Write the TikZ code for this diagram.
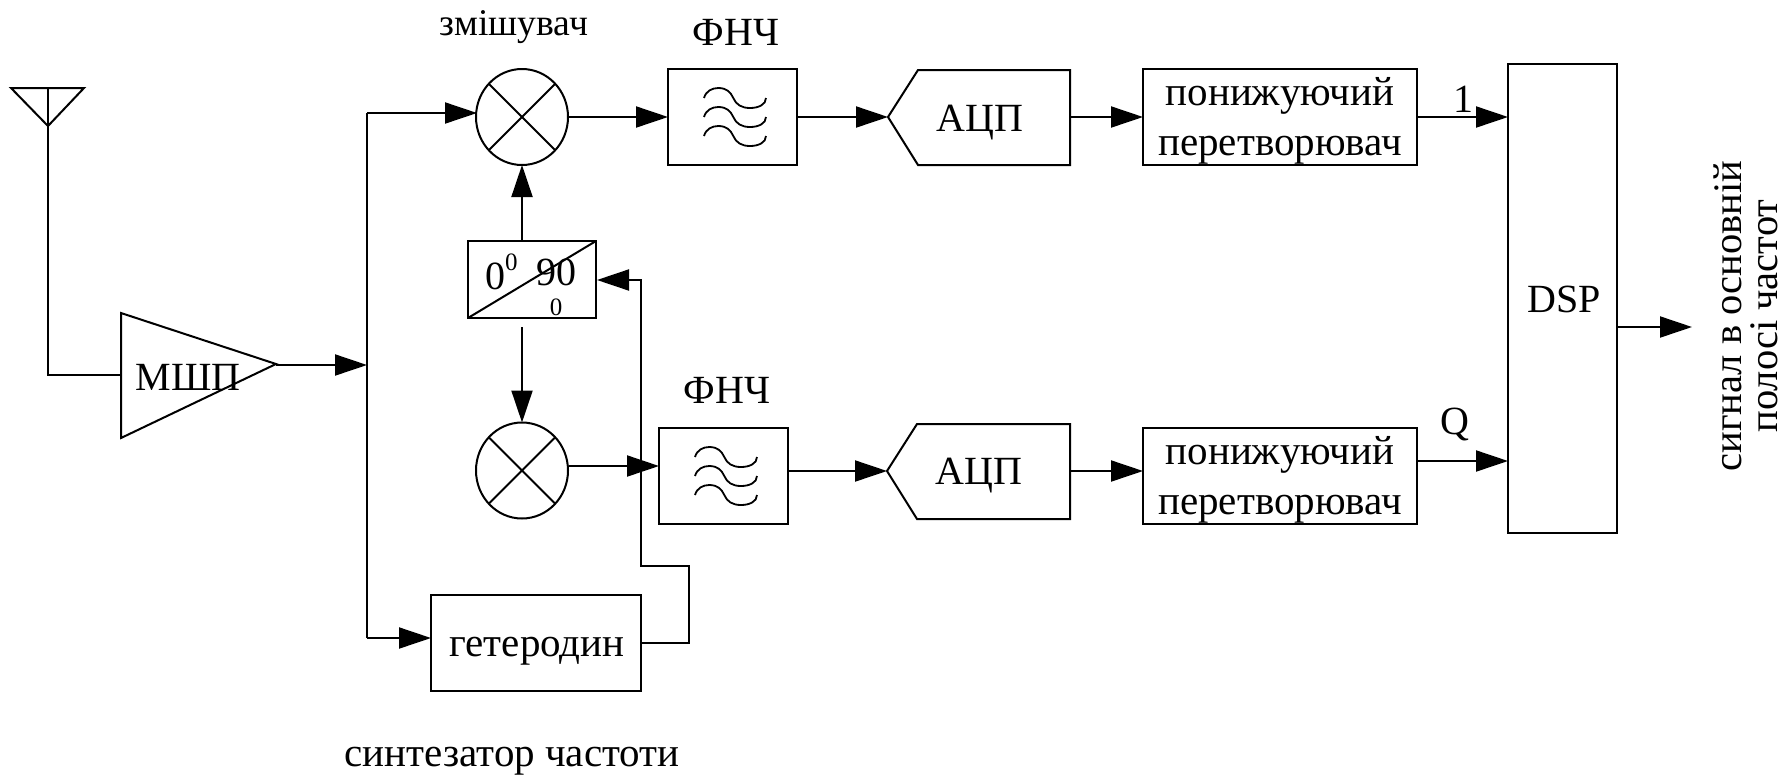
\documentclass[tikz,border=0pt]{standalone}
\usepackage{fontspec}
\setmainfont{Liberation Serif}
\usetikzlibrary{arrows.meta,shapes.geometric}
\tikzset{
  x=1pt,y=-1pt,
  wire/.style={line width=2pt,line join=miter},
  flow/.style={wire,-{Triangle[length=32pt,width=21pt]}},
  boxn/.style={draw,line width=2pt,inner sep=0pt,outer sep=0pt},
  txt/.style={inner sep=0pt,outer sep=0pt,align=center,font=\fontsize{40}{46}\selectfont},
  boxtxt/.style={txt,font=\fontsize{41}{50}\selectfont},
  smallz/.style={txt,font=\fontsize{25}{28}\selectfont},
  mixer/.style={draw,ellipse,line width=2pt,minimum width=92pt,minimum height=96pt,inner sep=0pt,outer sep=0pt},
  lpfbox/.style={boxn,minimum width=129pt,minimum height=96pt},
  convbox/.style={boxn,minimum width=274pt,minimum height=96pt},
  lpf/.pic={
    \foreach \d in {-19,0,19}{
      \draw[line width=1.8pt,shift={(-28.5,\d)}] (0,0) .. controls (2,-7) and (8,-10) .. (14.3,-10)
        .. controls (22.7,-10) and (26.7,-5.7) .. (29.3,0)
        .. controls (32,6.7) and (37.7,10) .. (46,10)
        .. controls (54.3,10) and (62,6.7) .. (62,0);
    }
  }
}
\begin{document}
\begin{tikzpicture}
\useasboundingbox (0,0) rectangle (1785,774);
% antenna
\coordinate (antL) at (11,88);
\coordinate (antR) at (84,88);
\coordinate (antT) at (48,88);
\coordinate (antA) at (48,126);
\coordinate (antB) at (48,375);
\draw[wire] (antL) -- (antR) -- (antA) -- cycle;
% LNA
\coordinate (ampTop) at (121,313);
\coordinate (ampBot) at (121,438);
\coordinate (ampTip) at (276,364);
\coordinate (ampIn) at (121,375);
\draw[wire] (ampTop) -- (ampTip) -- (ampBot) -- cycle;
\node[txt] (lna) at (188,377) {МШП};
\draw[wire] (antT) -- (antB) -- (ampIn);
% bus
\coordinate (busTop) at (367,113);
\coordinate (busMid) at (367,365);
\coordinate (busBot) at (367,638);
\coordinate (ampOut) at (276,365);
\draw[flow] (ampOut) -- (busMid);
% mixers
\node[mixer] (m1) at (522,117) {};
\node[mixer] (m2) at (522,470.5) {};
\draw[wire] (m1.45) -- (m1.225) (m1.135) -- (m1.315);
\draw[wire] (m2.45) -- (m2.225) (m2.135) -- (m2.315);
\coordinate (m1In) at (477,113);
\draw[wire] (busBot) -- (busTop);
\draw[flow] (busTop) -- (m1In);
% phase splitter
\node[boxn,minimum width=128pt,minimum height=77pt] (ph) at (532,279.5) {};
\draw[wire] (ph.south west) -- (ph.north east);
\node[txt,anchor=base west] (ph0) at (485,289) {0\raisebox{19pt}{\fontsize{25}{28}\selectfont 0}};
\node[txt,anchor=base] (ph90) at (556,285) {90};
\node[smallz,anchor=base] (ph90s) at (556,315) {0};
\coordinate (phTop) at (522,241);
\coordinate (phDown) at (522,327);
\draw[flow] (phTop) -- (m1.south);
\draw[flow] (phDown) -- (m2.north);
% heterodyne
\node[boxn,minimum width=210pt,minimum height=96pt] (lo) at (536,643) {};
\node[boxtxt] (lot) at (537,651) {гетеродин};
\coordinate (loIn) at (431,638);
\draw[flow] (busBot) -- (loIn);
\coordinate (loOut) at (641,643);
\coordinate (j1) at (689,643);
\coordinate (j2) at (689,566);
\coordinate (j3) at (641,566);
\coordinate (j4) at (641,280);
\coordinate (phIn) at (597,280);
\draw[flow] (loOut) -- (j1) -- (j2) -- (j3) -- (j4) -- (phIn);
% filters
\node[lpfbox] (f1) at (732.5,117) {};
\node[lpfbox] (f2) at (723.5,476) {};
\pic at (f1) {lpf};
\pic at (f2) {lpf};
\node[txt] (f1t) at (736,32) {ФНЧ};
\node[txt] (f2t) at (727,390) {ФНЧ};
\draw[flow] (m1.east) -- (f1.west);
\coordinate (m2Out) at (569,466);
\coordinate (f2In) at (659,466);
\draw[flow] (m2Out) -- (f2In);
\node[txt,font=\fontsize{37.7}{42}\selectfont] (mixl) at (514,27) {змішувач};
% ADC
\coordinate (a1tip) at (888,117);
\coordinate (a1a) at (918,70);
\coordinate (a1b) at (1070,70);
\coordinate (a1c) at (1070,165);
\coordinate (a1d) at (918,165);
\draw[wire] (a1tip) -- (a1a) -- (a1b) -- (a1c) -- (a1d) -- cycle;
\node[txt] (a1) at (980,123) {АЦП};
\coordinate (a2tip) at (887,471);
\coordinate (a2a) at (917,424);
\coordinate (a2b) at (1070,424);
\coordinate (a2c) at (1070,519);
\coordinate (a2d) at (917,519);
\draw[wire] (a2tip) -- (a2a) -- (a2b) -- (a2c) -- (a2d) -- cycle;
\node[txt] (a2) at (979,476) {АЦП};
\draw[flow] (f1.east) -- (a1tip);
\draw[flow] (f2.east |- a2tip) -- (a2tip);
% converters
\node[convbox] (c1) at (1280,117) {};
\node[convbox] (c2) at (1280,476) {};
\node[boxtxt] (c1t) at (1280,121) {понижуючий\\перетворювач};
\node[boxtxt] (c2t) at (1280,480) {понижуючий\\перетворювач};
\draw[flow] (a1b |- a1tip) -- (c1.west);
\draw[flow] (a2b |- a2tip) -- (c2.west |- a2tip);
% DSP
\node[boxn,minimum width=109pt,minimum height=469pt] (dsp) at (1562.5,298.5) {};
\node[txt] (dspt) at (1564,299) {DSP};
\coordinate (d1) at (1508,117);
\coordinate (d2) at (1508,461);
\draw[flow] (c1.east) -- (d1);
\coordinate (c2Out) at (1417,461);
\draw[flow] (c2Out) -- (d2);
\node[txt] (l1) at (1463,99) {1};
\node[txt] (lq) at (1455,424) {Q};
\coordinate (dOut) at (1617,327);
\coordinate (sig) at (1692,327);
\draw[flow] (dOut) -- (sig);
\node[txt,rotate=90,font=\fontsize{40.5}{36}\selectfont] (out) at (1746,316) {сигнал в основній\\полосі частот};
\node[txt,font=\fontsize{41}{46}\selectfont] (syn) at (512,761) {синтезатор частоти};
\end{tikzpicture}
\end{document}
